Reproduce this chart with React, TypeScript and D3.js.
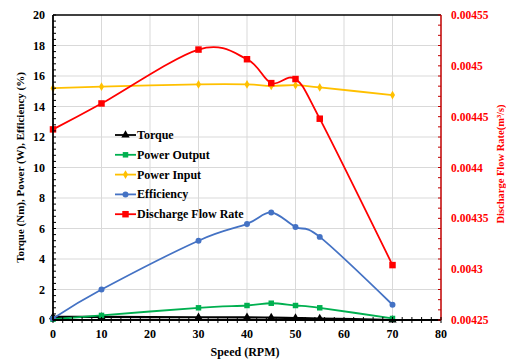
import React from "react";
import * as d3 from "d3";

const speeds = [0, 10, 30, 40, 45, 50, 55, 70];
const torque = [0.2, 0.2, 0.18, 0.17, 0.16, 0.13, 0.1, 0.0];
const powerOutput = [0.05, 0.3, 0.8, 0.95, 1.1, 0.95, 0.8, 0.1];
const powerInput = [15.2, 15.3, 15.45, 15.45, 15.35, 15.4, 15.25, 14.75];
const efficiency = [0.1, 2.0, 5.2, 6.3, 7.05, 6.1, 5.45, 1.0];
const flowRate = [0.0044375, 0.004463, 0.004516, 0.0045065, 0.004483, 0.004487, 0.004448, 0.004304];

const xTicks = [0, 10, 20, 30, 40, 50, 60, 70, 80];
const yLeftTicks = [0, 2, 4, 6, 8, 10, 12, 14, 16, 18, 20];
const yRightTicks = [0.00425, 0.0043, 0.00435, 0.0044, 0.00445, 0.0045, 0.00455];
const yRightLabels = ["0.00425", "0.0043", "0.00435", "0.0044", "0.00445", "0.0045", "0.00455"];

const W = 506, H = 361;
const L = 53, R = 441, T = 15, B = 320;
const FONT = "'Liberation Serif', 'Times New Roman', serif";

const x = d3.scaleLinear().domain([0, 80]).range([L, R]);
const yL = d3.scaleLinear().domain([0, 20]).range([B, T]);
const yR = d3.scaleLinear().domain([0.00425, 0.00455]).range([B, T]);

type Marker = "triangle" | "square" | "diamond" | "circle";

function MarkerShape({ type, cx, cy, color, size }: { type: Marker; cx: number; cy: number; color: string; size: number }) {
  const symType =
    type === "triangle" ? d3.symbolTriangle : type === "square" ? d3.symbolSquare : type === "diamond" ? d3.symbolDiamond : d3.symbolCircle;
  const path = d3.symbol().type(symType).size(size)() as string;
  return <path d={path} transform={`translate(${cx},${cy})`} fill={color} />;
}

const series = [
  { name: "Torque", values: torque, color: "#000000", marker: "triangle" as Marker, size: 30, axis: "L" },
  { name: "Power Output", values: powerOutput, color: "#00B050", marker: "square" as Marker, size: 30, axis: "L" },
  { name: "Power Input", values: powerInput, color: "#FFC000", marker: "diamond" as Marker, size: 22, axis: "L" },
  { name: "Efficiency", values: efficiency, color: "#4472C4", marker: "circle" as Marker, size: 28, axis: "L" },
  { name: "Discharge Flow Rate", values: flowRate, color: "#FF0000", marker: "square" as Marker, size: 42, axis: "R" },
];

export default function App() {
  const minorX = d3.range(0, 80.001, 2);
  const minorYL = d3.range(0, 20.001, 0.4);
  const minorYR = d3.range(0, 30.001, 1).map((i) => 0.00425 + i * 0.00001);

  return (
    <svg width={W} height={H} style={{ position: "absolute", left: 0, top: 0, background: "#fff" }} fontFamily={FONT}>
      {/* gridlines */}
      {xTicks.slice(1, -1).map((t) => (
        <line key={"gx" + t} x1={x(t)} x2={x(t)} y1={T} y2={B} stroke="#d9d9d9" strokeWidth={1} />
      ))}
      {yLeftTicks.slice(1, -1).map((t) => (
        <line key={"gy" + t} x1={L} x2={R} y1={yL(t)} y2={yL(t)} stroke="#d9d9d9" strokeWidth={1} />
      ))}

      {/* series lines */}
      {series.map((s) => {
        const yS = s.axis === "L" ? yL : yR;
        const line = d3
          .line<number>()
          .x((_, i) => x(speeds[i]))
          .y((v) => yS(v))
          .curve(d3.curveCardinal.tension(0));
        return (
          <g key={s.name}>
            <path d={line(s.values) as string} fill="none" stroke={s.color} strokeWidth={s.name === "Torque" ? 2.2 : 1.8} />
            {s.values.map((v, i) => (
              <MarkerShape key={i} type={s.marker} cx={x(speeds[i])} cy={yS(v)} color={s.color} size={s.size} />
            ))}
          </g>
        );
      })}

      {/* frame */}
      <line x1={L} x2={R} y1={T} y2={T} stroke="#000" strokeWidth={1.5} />
      <line x1={L} x2={L} y1={T} y2={B} stroke="#000" strokeWidth={1.8} />
      <line x1={R} x2={R} y1={T} y2={B} stroke="#C00000" strokeWidth={1.5} />
      <line x1={L} x2={R} y1={B} y2={B} stroke="#000" strokeWidth={2} />

      {/* minor ticks */}
      {minorX.map((t, i) => (
        <line key={"mx" + i} x1={x(t)} x2={x(t)} y1={B - 3} y2={B + 3} stroke="#000" strokeWidth={1} />
      ))}
      {minorYL.map((t, i) => (
        <line key={"myl" + i} x1={L} x2={L + 3} y1={yL(t)} y2={yL(t)} stroke="#000" strokeWidth={1} />
      ))}
      {minorYR.map((t, i) => (
        <line key={"myr" + i} x1={R - 3} x2={R} y1={yR(t)} y2={yR(t)} stroke="#C00000" strokeWidth={1} />
      ))}

      {/* x tick labels */}
      {xTicks.map((t) => (
        <text key={"xt" + t} x={x(t)} y={B + 18} textAnchor="middle" fontSize={12} fontWeight="bold" fill="#000">
          {t}
        </text>
      ))}
      {/* left tick labels */}
      {yLeftTicks.map((t) => (
        <text key={"yl" + t} x={L - 8} y={yL(t) + 4} textAnchor="end" fontSize={12} fontWeight="bold" fill="#000">
          {t}
        </text>
      ))}
      {/* right tick labels */}
      {yRightTicks.map((t, i) => (
        <text key={"yr" + i} x={R + 10} y={yR(t) + 4} textAnchor="start" fontSize={11.5} fontWeight="bold" fill="#FF0000">
          {yRightLabels[i]}
        </text>
      ))}

      {/* axis titles */}
      <text x={245} y={356} textAnchor="middle" fontSize={12} fontWeight="bold" fill="#000">
        Speed (RPM)
      </text>
      <text transform={`translate(24,${(T + B) / 2}) rotate(-90)`} textAnchor="middle" fontSize={11} fontWeight="bold" fill="#000">
        Torque (Nm), Power (W), Efficiency (%)
      </text>
      <text transform={`translate(504,164) rotate(-90)`} textAnchor="middle" fontSize={10.5} fontWeight="bold" fill="#FF0000">
        Discharge Flow Rate(m³/s)
      </text>

      {/* legend */}
      {series.map((s, i) => {
        const ly = 135 + i * 19.8;
        return (
          <g key={"lg" + s.name}>
            <line x1={115} x2={136} y1={ly} y2={ly} stroke={s.color} strokeWidth={1.8} />
            <MarkerShape type={s.marker} cx={125.5} cy={ly} color={s.color} size={s.size} />
            <text x={137} y={ly + 4} fontSize={12} fontWeight="bold" fill="#000">
              {s.name}
            </text>
          </g>
        );
      })}
    </svg>
  );
}
